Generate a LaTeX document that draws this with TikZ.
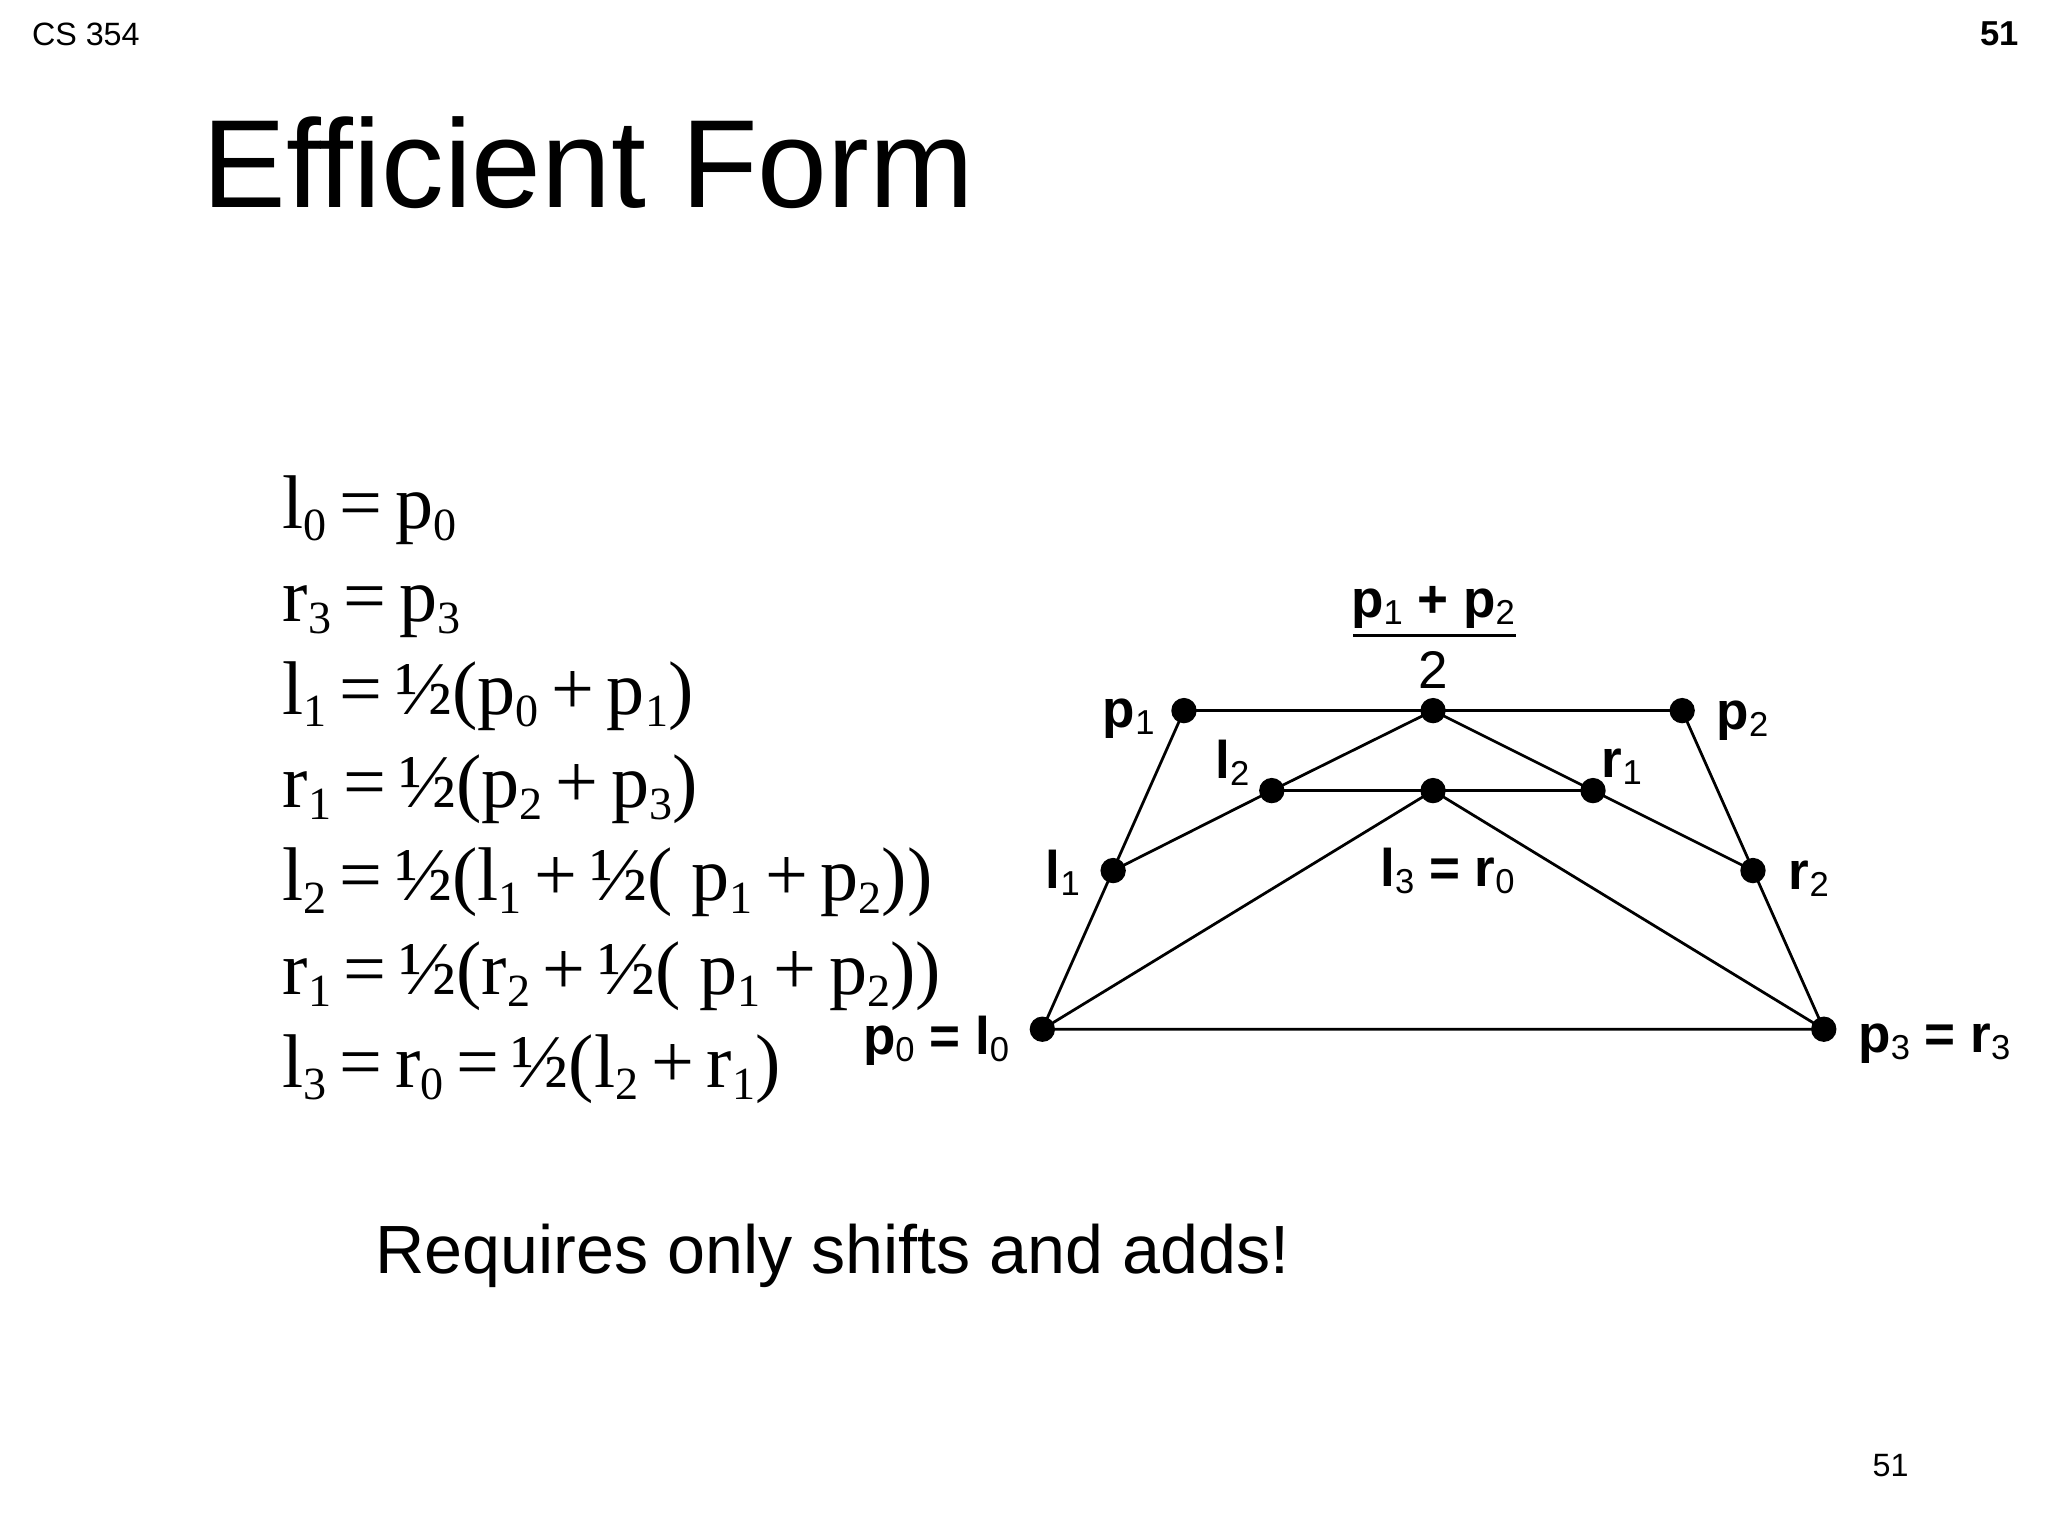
\documentclass[tikz,border=0pt]{standalone}
\usepackage{fontspec}
\setmainfont{Liberation Sans}
\newfontfamily\eqfont{Liberation Serif}
\begin{document}
\begin{tikzpicture}[x=0.01cm,y=-0.01cm,
  dot/.style={circle,fill=black,inner sep=0pt,minimum size=5.5pt},
  lab/.style={font=\fontsize{11.5}{13}\selectfont\bfseries},
  seg/.style={line width=0.6pt}]
\useasboundingbox (0,0) rectangle (1562,1171);
\node[anchor=west,font=\fontsize{7}{8}\selectfont] (cs) at (12,26) {CS 354};
\node[anchor=east,font=\fontsize{7.5}{8}\selectfont\bfseries] (pg) at (1552,26) {51};
\node[anchor=west,font=\fontsize{27.2}{30}\selectfont] (title) at (142,124) {Efficient Form};
\newcommand{\s}[1]{\raisebox{-0.35ex}{\fontsize{10}{10}\selectfont #1}}
\newcommand{\q}[1]{\raisebox{-0.25ex}{\fontsize{7.5}{8}\selectfont\mdseries #1}}
\node[anchor=north west,align=left,font=\eqfont\fontsize{16.5}{20.2}\selectfont,inner sep=0pt] (eqs) at (215,362) {%
l\s0\,=\,p\s0\\
r\s3\,=\,p\s3\\
l\s1\,=\,½(p\s0\,+\,p\s1)\\
r\s1\,=\,½(p\s2\,+\,p\s3)\\
l\s2\,=\,½(l\s1\,+\,½( p\s1\,+\,p\s2))\\
r\s1\,=\,½(r\s2\,+\,½( p\s1\,+\,p\s2))\\
l\s3\,=\,r\s0\,=\,½(l\s2\,+\,r\s1)};
\node[anchor=west,font=\fontsize{14.8}{17}\selectfont] (req) at (274,958) {Requires only shifts and adds!};
\node[anchor=east,font=\fontsize{7}{8}\selectfont] (pn) at (1468,1118) {51};
% points
\node[dot] (p1) at (903,542) {};
\node[dot] (m) at (1093,542) {};
\node[dot] (p2) at (1283,542) {};
\node[dot] (l2) at (970,603) {};
\node[dot] (l3) at (1093,603) {};
\node[dot] (r1) at (1215,603) {};
\node[dot] (l1) at (849,664) {};
\node[dot] (r2) at (1337,664) {};
\node[dot] (p0) at (795,785) {};
\node[dot] (p3) at (1391,785) {};
\draw[seg] (p0.center)--(p1.center)--(p2.center)--(p3.center)--cycle;
\draw[seg] (l1.center)--(l2.center)--(m.center)--(r1.center)--(r2.center);
\draw[seg] (l2.center)--(r1.center);
\draw[seg] (p0.center)--(l3.center)--(p3.center);
% labels
\node[lab,anchor=east] (lp1) at (893,548) {p\q1};
\node[lab,anchor=west] (lp2) at (1297,550) {p\q2};
\node[lab] (ll2) at (940,582) {l\q2};
\node[lab] (lr1) at (1237,585) {r\q1};
\node[lab,anchor=east] (ll1) at (836,666) {l\q1};
\node[lab,anchor=west] (lr2) at (1352,670) {r\q2};
\node[lab] (ll3) at (1104,664) {l\q3 = r\q0};
\node[lab,anchor=east] (lp0) at (782,794) {p\q0 = l\q0};
\node[lab,anchor=west] (lp3) at (1405,796) {p\q3 = r\q3};
\node[lab] (frac) at (1093,463) {p\q1 + p\q2};
\draw[seg] (1032,485) -- (1156,485);
\node[font=\fontsize{11.5}{13}\selectfont] (two) at (1093,511) {2};
\end{tikzpicture}
\end{document}
